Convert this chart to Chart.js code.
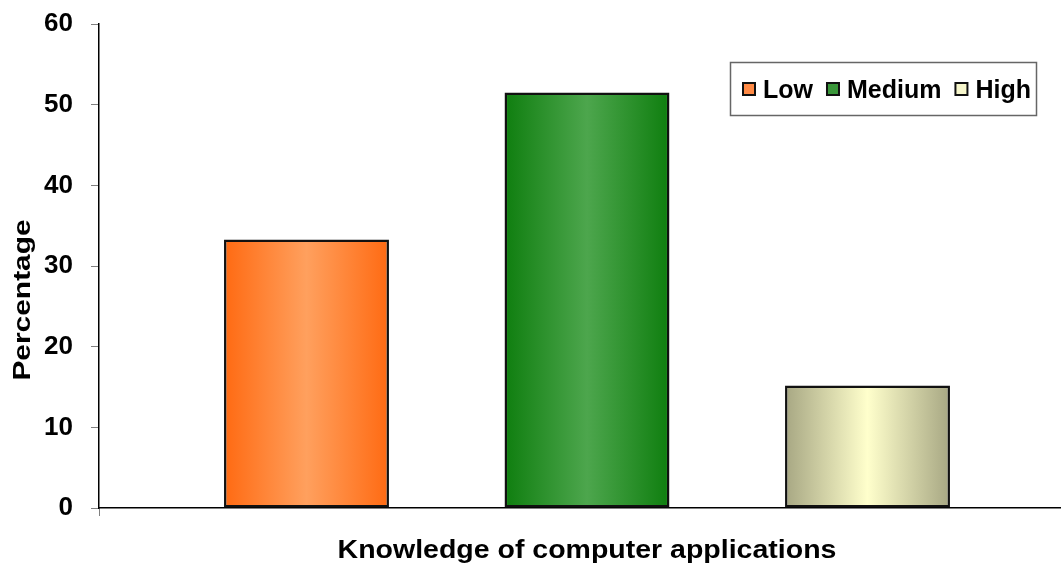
<!DOCTYPE html>
<html>
<head>
<meta charset="utf-8">
<script src="https://cdn.jsdelivr.net/npm/chart.js@4"></script>
<style>
  html, body { margin: 0; padding: 0; background: #fff; overflow: hidden; width: 1061px; height: 563px; }
  #wrap { position: relative; width: 1075px; height: 563px; }
</style>
</head>
<body>
<div id="wrap"><canvas id="c"></canvas></div>
<script>
// ---- data ----
const categories = ['Knowledge of computer applications'];
const seriesLabels = ['Low', 'Medium', 'High'];
const seriesValues = [33.3, 51.5, 15.2];
const yTicks = [0, 10, 20, 30, 40, 50, 60];
const xTitle = 'Knowledge of computer applications';
const yTitle = 'Percentage';

// ---- style ----
const edgeColors = ['#FF6A12', '#0F7E0F', '#A7A783'];
const centerColors = ['#FFA05E', '#4DA64D', '#FFFFCC'];
const legendColors = ['#FF8A45', '#3A973A', '#F7F7CC'];
const FONT = '"Liberation Sans", Arial, sans-serif';

const datasets = seriesLabels.map((lab, i) => ({
  label: lab,
  data: [seriesValues[i]],
  backgroundColor: centerColors[i],
  borderColor: '#111',
  borderWidth: 2.5,
  borderSkipped: false,
  categoryPercentage: 0.8622,
  barPercentage: 0.588
}));

const gradientPlugin = {
  id: 'gradientBars',
  beforeDatasetsDraw(chart) {
    const ctx = chart.ctx;
    chart.data.datasets.forEach((ds, i) => {
      const meta = chart.getDatasetMeta(i);
      meta.data.forEach(el => {
        const p = el.getProps(['x', 'width'], true);
        const g = ctx.createLinearGradient(p.x - p.width / 2, 0, p.x + p.width / 2, 0);
        g.addColorStop(0, edgeColors[i]);
        g.addColorStop(0.5, centerColors[i]);
        g.addColorStop(1, edgeColors[i]);
        el.options = Object.assign({}, el.options, { backgroundColor: g });
      });
    });
  }
};

const textPlugin = {
  id: 'stretchedText',
  afterDraw(chart) {
    const ctx = chart.ctx;
    const area = chart.chartArea;
    // x title
    ctx.save();
    ctx.font = 'bold 25px ' + FONT;
    ctx.fillStyle = '#000';
    ctx.textAlign = 'center';
    ctx.textBaseline = 'alphabetic';
    const xc = (area.left + area.right) / 2;
    ctx.translate(xc, 558);
    ctx.scale(1.14, 1);
    ctx.fillText(xTitle, 0, 0);
    ctx.restore();
    // y title
    ctx.save();
    ctx.font = 'bold 23px ' + FONT;
    ctx.fillStyle = '#000';
    ctx.textAlign = 'center';
    ctx.textBaseline = 'middle';
    ctx.translate(24, 300);
    ctx.rotate(-Math.PI / 2);
    ctx.scale(1.3, 1);
    ctx.fillText(yTitle, 0, 0);
    ctx.restore();
    // legend
    ctx.save();
    ctx.strokeStyle = '#666';
    ctx.lineWidth = 1.5;
    ctx.strokeRect(730.5, 62.5, 306, 53);
    ctx.font = 'bold 25px ' + FONT;
    ctx.textAlign = 'left';
    ctx.textBaseline = 'alphabetic';
    let x = 743;
    chart.data.datasets.forEach((ds, i) => {
      ctx.fillStyle = legendColors[i];
      ctx.fillRect(x, 83, 12, 12);
      ctx.strokeStyle = '#111';
      ctx.lineWidth = 2;
      ctx.strokeRect(x, 83, 12, 12);
      ctx.fillStyle = '#000';
      ctx.fillText(ds.label, x + 20, 97.5);
      x += 20 + ctx.measureText(ds.label).width + 14;
    });
    ctx.restore();
  }
};

new Chart(document.getElementById('c'), {
  type: 'bar',
  data: { labels: categories, datasets },
  plugins: [gradientPlugin, textPlugin],
  options: {
    responsive: true,
    maintainAspectRatio: false,
    animation: false,
    layout: { padding: { top: 24, left: 0, right: 0, bottom: 0 } },
    plugins: { legend: { display: false }, tooltip: { enabled: false } },
    scales: {
      x: {
        offset: true,
        ticks: { display: false },
        grid: { display: true, drawOnChartArea: false, drawTicks: true, tickLength: 8, tickColor: '#808080', offset: true },
        border: { display: true, color: '#000', width: 1.5 },
        afterFit(s) { s.height = 55; s.paddingLeft = 0; s.paddingRight = 0; }
      },
      y: {
        min: 0, max: 60,
        afterBuildTicks(s) { s.ticks = yTicks.map(v => ({ value: v })); },
        ticks: { color: '#000', padding: 18, font: { family: FONT, size: 26, weight: 'bold' } },
        grid: { drawOnChartArea: false, drawTicks: true, tickLength: 8, tickColor: '#808080' },
        border: { display: true, color: '#000', width: 1.5 },
        afterFit(s) { s.width = 99; s.paddingTop = 0; s.paddingBottom = 0; }
      }
    }
  }
});
</script>
</body>
</html>
